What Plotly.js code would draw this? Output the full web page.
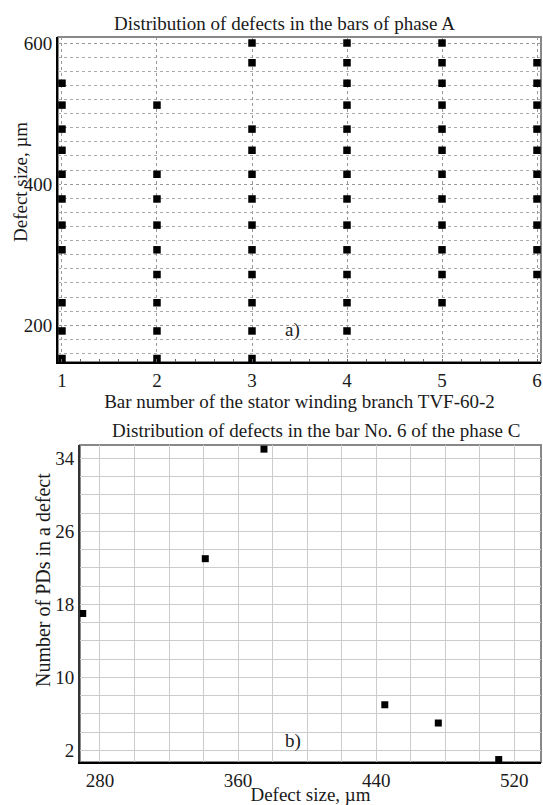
<!DOCTYPE html>
<html>
<head>
<meta charset="utf-8">
<script src="https://cdn.plot.ly/plotly-3.0.1.min.js"></script>
<style>html,body{margin:0;padding:0;background:#fff}#chart{width:543px;height:805px}</style>
</head>
<body>
<div id="chart"></div>
<script>
// Panel a: defect sizes (µm) found in each bar of phase A
const barNumbers = [1, 2, 3, 4, 5, 6];
const bar1Sizes = [543, 512, 478, 448, 414, 379, 342, 307, 232, 192, 153];
const bar2Sizes = [512, 414, 379, 342, 307, 272, 232, 192, 153];
const bar3Sizes = [600, 572, 478, 448, 414, 379, 342, 307, 272, 232, 192, 153];
const bar4Sizes = [600, 572, 543, 512, 478, 448, 414, 379, 342, 307, 272, 232, 192];
const bar5Sizes = [600, 572, 543, 512, 478, 448, 414, 379, 342, 307, 272, 232];
const bar6Sizes = [572, 543, 512, 478, 448, 414, 379, 342, 307, 272];
const aTickVals = [200, 400, 600];

// Panel b: bar No. 6 of phase C
const bDefectSize = [270, 341, 375, 445, 476, 511];
const bPdCount = [17, 23, 35, 7, 5, 1];
const bXTicks = [280, 360, 440, 520];
const bYTicks = [2, 10, 18, 26, 34];

const allBars = [bar1Sizes, bar2Sizes, bar3Sizes, bar4Sizes, bar5Sizes, bar6Sizes];
const ax = [], ay = [];
allBars.forEach((sizes, i) => sizes.forEach(s => { ax.push(barNumbers[i]); ay.push(s); }));

const FONT = 'Liberation Serif, Times New Roman, serif';
const TXT = '#1a1a1a';

const traces = [
  {type: 'scatter', mode: 'markers', x: ax, y: ay, xaxis: 'x', yaxis: 'y', marker: {symbol: 'square', color: '#000', size: 7.5}, showlegend: false},
  {type: 'scatter', mode: 'markers', x: bDefectSize, y: bPdCount, xaxis: 'x2', yaxis: 'y2', marker: {symbol: 'square', color: '#000', size: 7}, showlegend: false}
];

const layout = {
  width: 543, height: 805,
  margin: {l: 58, r: 2, t: 37, b: 43},
  paper_bgcolor: '#fff', plot_bgcolor: '#fff',
  font: {family: FONT, size: 19, color: TXT},
  showlegend: false,
  xaxis: {
    domain: [0, 1], anchor: 'y', range: [0.958, 6.042],
    tickvals: barNumbers, ticks: '', showgrid: true, gridcolor: '#999', griddash: 'dot', gridwidth: 1,
    showline: true, linecolor: '#000', linewidth: 2, zeroline: false,
    minor: {dtick: 0.2, tick0: 1, ticks: 'inside', ticklen: 3, tickcolor: '#666', showgrid: false},
    tickfont: {size: 19, family: FONT, color: TXT},
    title: {text: 'Bar number of the stator winding branch TVF-60-2', font: {size: 19, family: FONT, color: TXT}, standoff: 0}
  },
  yaxis: {
    domain: [0.5517, 1], anchor: 'x', range: [148, 608.5],
    tickvals: aTickVals, ticks: '', showgrid: true, gridcolor: '#999', griddash: 'dot',
    showline: true, linecolor: '#000', linewidth: 2, zeroline: false,
    minor: {dtick: 20, tick0: 0, showgrid: true, gridcolor: '#aaa', griddash: 'dot', gridwidth: 1},
    tickfont: {size: 19, family: FONT, color: TXT}
  },
  xaxis2: {
    domain: [0.0455, 1], anchor: 'y2', range: [268.4, 535.5],
    tickvals: bXTicks, ticks: '', showgrid: true, gridcolor: '#ccc', gridwidth: 1,
    showline: true, linecolor: '#000', linewidth: 2, zeroline: false,
    minor: {dtick: 20, tick0: 0, showgrid: true, gridcolor: '#ccc', gridwidth: 1},
    tickfont: {size: 19, family: FONT, color: TXT},
    title: {text: 'Defect size, µm', font: {size: 19, family: FONT, color: TXT}, standoff: 0}
  },
  yaxis2: {
    domain: [0, 0.4372], anchor: 'x2', range: [0.73, 35.45],
    tickvals: bYTicks, ticks: '', showgrid: true, gridcolor: '#ccc', gridwidth: 1,
    showline: true, linecolor: '#333', linewidth: 2, zeroline: false,
    minor: {dtick: 2, tick0: 0, showgrid: true, gridcolor: '#ccc', gridwidth: 1},
    tickfont: {size: 19, family: FONT, color: TXT}
  },
  shapes: [
    {type: 'rect', xref: 'x domain', yref: 'y domain', x0: 0, x1: 1, y0: 0, y1: 1, line: {color: '#888', width: 2}, layer: 'below'},
    {type: 'rect', xref: 'x2 domain', yref: 'y2 domain', x0: 0, x1: 1, y0: 0, y1: 1, line: {color: '#888', width: 2}, layer: 'below'}
  ],
  annotations: [
    {text: 'Distribution of defects in the bars of phase A', xref: 'paper', yref: 'paper', x: 0.468, y: 1.0193, showarrow: false, xanchor: 'center', yanchor: 'middle', font: {size: 19, family: FONT, color: TXT}},
    {text: 'Distribution of defects in the bar No. 6 of the phase C', xref: 'paper', yref: 'paper', x: 0.534, y: 0.4566, showarrow: false, xanchor: 'center', yanchor: 'middle', font: {size: 19, family: FONT, color: TXT}},
    {text: 'Defect size, µm', xref: 'paper', yref: 'paper', x: -0.0766, y: 0.8, textangle: -90, showarrow: false, xanchor: 'center', yanchor: 'middle', font: {size: 19, family: FONT, color: TXT}},
    {text: 'Number of PDs in a defect', xref: 'paper', yref: 'paper', x: -0.031, y: 0.251, textangle: -90, showarrow: false, xanchor: 'center', yanchor: 'middle', font: {size: 20, family: FONT, color: TXT}},
    {text: 'a)', xref: 'x', yref: 'y', x: 3.43, y: 193, showarrow: false, font: {size: 19, family: FONT, color: TXT}},
    {text: 'b)', xref: 'x2', yref: 'y2', x: 391.6, y: 3.0, showarrow: false, font: {size: 19, family: FONT, color: TXT}}
  ]
};

Plotly.newPlot('chart', traces, layout, {staticPlot: true, displayModeBar: false});
</script>
</body>
</html>
